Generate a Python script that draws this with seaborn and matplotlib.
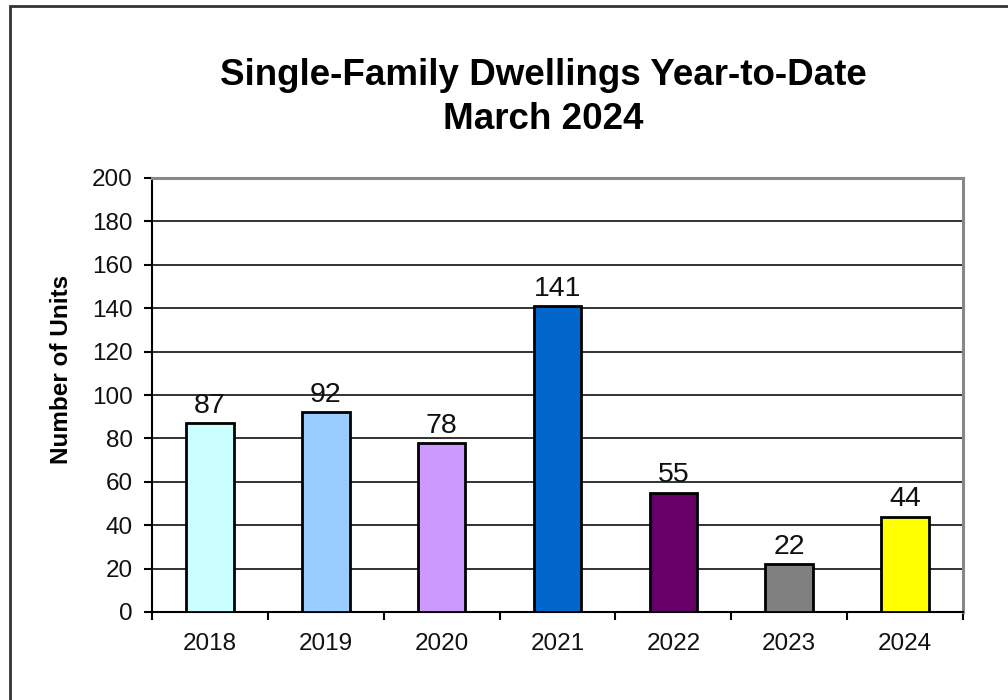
import matplotlib
matplotlib.use("Agg")
import matplotlib.pyplot as plt
import seaborn as sns
import pandas as pd
from matplotlib.patches import Rectangle

years = ["2018", "2019", "2020", "2021", "2022", "2023", "2024"]
units = [87, 92, 78, 141, 55, 22, 44]
colors = ["#CCFFFF", "#99CCFF", "#CC99FF", "#0066CC", "#660066", "#808080", "#FFFF00"]
yticks = [0, 20, 40, 60, 80, 100, 120, 140, 160, 180, 200]

sns.set_theme(style="white")
plt.rcParams["font.family"] = ["Liberation Sans", "DejaVu Sans"]
plt.rcParams["text.color"] = "black"

df = pd.DataFrame({"year": years, "units": units})

fig = plt.figure(figsize=(10.08, 7.0), dpi=100)
ax = fig.add_axes([152 / 1008, 1 - 612 / 700, (963 - 152) / 1008, (612 - 178) / 700])

sns.barplot(data=df, x="year", y="units", hue="year", palette=colors, legend=False,
            width=0.41, edgecolor="black", linewidth=2, saturation=1, ax=ax, zorder=3)

ax.set_ylim(0, 200)
ax.set_xlim(-0.5, len(years) - 0.5)
ax.set_yticks(yticks)
ax.set_yticklabels([str(v) for v in yticks], fontsize=17.5, color="#111111")
ax.tick_params(axis="x", which="major", length=0, labelsize=17.5, pad=15, labelcolor="#111111")
ax.tick_params(axis="y", which="major", length=6, width=1.5, direction="out", color="black", pad=8, left=True)
ax.set_xticks([i - 0.5 for i in range(1, len(years))] + [-0.5, len(years) - 0.5], minor=True)
ax.tick_params(axis="x", which="minor", length=6, width=1.5, direction="out", color="black", bottom=True)

for v in yticks[1:-1]:
    ax.axhline(v, color="#222222", linewidth=1.3, zorder=1)

ax.spines["left"].set_color("black")
ax.spines["left"].set_linewidth(1.5)
ax.spines["bottom"].set_color("black")
ax.spines["bottom"].set_linewidth(1.5)
ax.spines["top"].set_color("#888888")
ax.spines["top"].set_linewidth(2.2)
ax.spines["right"].set_color("#888888")
ax.spines["right"].set_linewidth(2.2)
for s in ax.spines.values():
    s.set_visible(True)

for i, v in enumerate(units):
    ax.annotate(str(v), (i, v), xytext=(0, 3), textcoords="offset points",
                ha="center", va="bottom", fontsize=20.5, color="#111111")

ax.set_xlabel("")
ax.set_ylabel("Number of Units", fontsize=17.5, fontweight="bold", color="black")
ax.yaxis.set_label_coords(-0.097, 0.56)

fig.text(543 / 1008, 1 - 85 / 700, "Single-Family Dwellings Year-to-Date", ha="center", va="baseline",
         fontsize=26.5, fontweight="bold", color="black")
fig.text(543 / 1008, 1 - 129 / 700, "March 2024", ha="center", va="baseline",
         fontsize=26.5, fontweight="bold", color="black")

fig.patches.append(Rectangle((9.5 / 1008, -0.1), 1.2, 1 - 5.5 / 700 + 0.1, transform=fig.transFigure,
                             fill=False, edgecolor="#333333", linewidth=2))

fig.savefig("out.png", dpi=100)
